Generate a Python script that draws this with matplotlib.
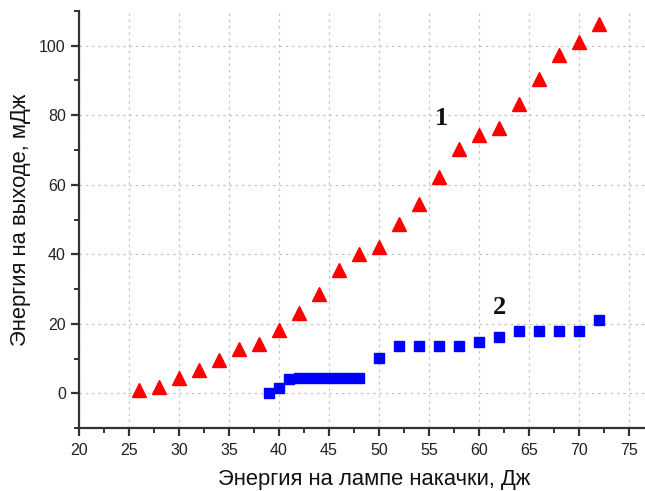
import matplotlib
matplotlib.use('Agg')
import matplotlib.pyplot as plt
from matplotlib.ticker import MultipleLocator

plt.rcParams['font.family'] = ['Liberation Sans', 'DejaVu Sans']

# curve 1 (red triangles)
x1 = [26, 28, 30, 32, 34, 36, 38, 40, 42, 44, 46, 48,
      50, 52, 54, 56, 58, 60, 62, 64, 66, 68, 70, 72]
y1 = [0.8, 1.9, 4.4, 6.8, 9.6, 12.6, 14.2, 18.3, 23.2, 28.6, 35.4, 40.0,
      42.2, 48.6, 54.4, 62.2, 70.2, 74.3, 76.4, 83.2, 90.3, 97.3, 101.2, 106.4]

# curve 2 (blue squares)
x2 = [39, 40, 41, 42, 43, 44, 45, 46, 47, 48,
      50, 52, 54, 56, 58, 60, 62, 64, 66, 68, 70, 72]
y2 = [0.0, 1.6, 4.1, 4.3, 4.3, 4.3, 4.3, 4.3, 4.3, 4.3,
      10.1, 13.5, 13.5, 13.5, 13.5, 14.7, 16.3, 18.0, 18.0, 18.0, 18.0, 21.0]

fig = plt.figure(figsize=(6.45, 4.91), dpi=100)
# the original plot is cut off on the right, so the axes run past the figure edge
ax = fig.add_axes([0.1225, 0.1283, 0.9147, 0.8493])

ax.plot(x1, y1, linestyle='none', marker='^', ms=9.5, color='#ff0000', mec='#ff0000')
ax.plot(x2, y2, linestyle='none', marker='s', ms=7.5, color='#0000ff', mec='#0000ff')

ax.text(56.2, 79, '1', fontsize=19, fontweight='bold', family='Liberation Serif',
        ha='center', va='center', color='#111111')
ax.text(62.1, 24.8, '2', fontsize=19, fontweight='bold', family='Liberation Serif',
        ha='center', va='center', color='#111111')

ax.set_xlim(20, 79)
ax.set_ylim(-10, 110)
ax.xaxis.set_major_locator(MultipleLocator(5))
ax.xaxis.set_minor_locator(MultipleLocator(2.5))
ax.yaxis.set_major_locator(MultipleLocator(20))
ax.yaxis.set_minor_locator(MultipleLocator(10))

ax.spines['top'].set_visible(False)
ax.spines['right'].set_visible(False)
for s in ['left', 'bottom']:
    ax.spines[s].set_linewidth(1.6)
    ax.spines[s].set_color('#333333')

ax.tick_params(which='major', direction='out', length=6, width=1.6, color='#333333',
               labelsize=11.5, labelcolor='#222222')
ax.tick_params(axis='x', which='major', pad=5)
ax.tick_params(which='minor', direction='out', length=3.5, width=1.4, color='#333333')

ax.grid(True, which='major', color='#c4c4c4', linestyle=(0, (2, 3)), linewidth=0.9)
ax.set_axisbelow(True)

ax.set_xlabel('Энергия на лампе накачки, Дж', fontsize=15.8, labelpad=7.5, color='#111111')
ax.set_ylabel('Энергия на выходе, мДж', fontsize=15.8, labelpad=6, color='#111111')

fig.savefig('out.png', dpi=100)
